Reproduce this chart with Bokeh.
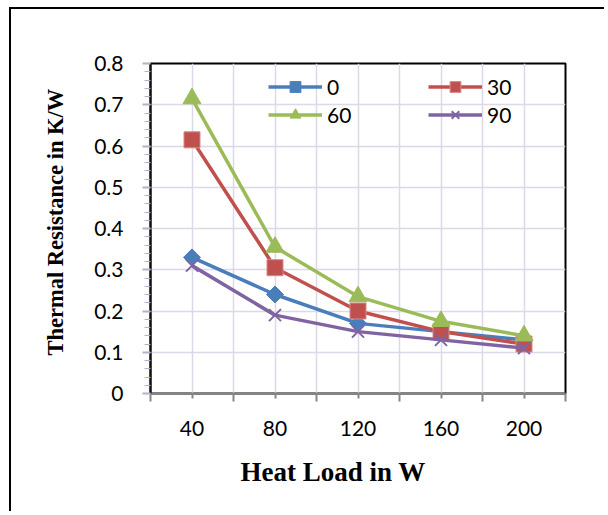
import math
from bokeh.plotting import figure
from bokeh.models import FixedTicker, Legend, LegendItem, Title, Range1d
from bokeh.embed import file_html
from bokeh.resources import INLINE

# ---- data ----
heat_load = [40, 80, 120, 160, 200]
series_names = ["0", "30", "60", "90"]
angle_0 = [0.33, 0.24, 0.17, 0.15, 0.13]
angle_30 = [0.615, 0.305, 0.20, 0.15, 0.12]
angle_60 = [0.715, 0.355, 0.235, 0.175, 0.14]
angle_90 = [0.31, 0.19, 0.15, 0.13, 0.11]
x_tick_values = [40, 80, 120, 160, 200]
x_boundaries = [20, 60, 100, 140, 180, 220]
y_tick_values = [0, 0.1, 0.2, 0.3, 0.4, 0.5, 0.6, 0.7, 0.8]
y_minor_values = [i * 0.02 for i in range(41)]
x_title = "Heat Load in W"
y_title = "Thermal Resistance in K/W"

colors = ["#4a7ebb", "#c0504d", "#9bbb59", "#8064a2"]
grid_color = "#dcd8e8"
tick_color = "#b6b0c8"

p = figure(width=595, height=504, x_range=Range1d(20, 220), y_range=Range1d(0, 0.8),
           output_backend="svg", toolbar_location=None,
           min_border_left=139, min_border_right=41, min_border_top=54, min_border_bottom=120)
p.styles = {"margin-left": "9px", "margin-top": "7px",
            "border-left": "2px solid black", "border-top": "2px solid black"}
p.background_fill_color = "white"
p.border_fill_color = "white"
p.outline_line_color = "black"
p.outline_line_width = 2

# x axis
xa = p.xaxis[0]
xa.ticker = FixedTicker(ticks=x_tick_values, minor_ticks=x_boundaries)
xa.axis_line_color = "#868686"
xa.axis_line_width = 2
xa.major_tick_in = 0
xa.major_tick_out = 5
xa.minor_tick_in = 0
xa.minor_tick_out = 8
xa.major_tick_line_color = "#868686"
xa.minor_tick_line_color = "#868686"
xa.major_tick_line_width = 2
xa.minor_tick_line_width = 2
xa.major_label_text_font = "Lato"
xa.major_label_text_font_size = "21px"
xa.major_label_text_color = "black"
xa.major_label_standoff = 19

# y axis
ya = p.yaxis[0]
ya.ticker = FixedTicker(ticks=y_tick_values, minor_ticks=y_minor_values)
ya.axis_line_color = "#111111"
ya.axis_line_width = 2
ya.major_tick_in = 0
ya.major_tick_out = 8
ya.minor_tick_in = 0
ya.minor_tick_out = 6
ya.major_tick_line_color = tick_color
ya.minor_tick_line_color = tick_color
ya.major_tick_line_width = 2
ya.minor_tick_line_width = 1
ya.major_label_text_font = "Lato"
ya.major_label_text_font_size = "21px"
ya.major_label_text_color = "black"
ya.major_label_standoff = 19
ya.major_label_overrides = {0: "0"}

# grids
p.xgrid.ticker = FixedTicker(ticks=x_tick_values, minor_ticks=x_boundaries)
p.xgrid.grid_line_color = grid_color
p.xgrid.minor_grid_line_color = grid_color
p.xgrid.grid_line_width = 1.5
p.xgrid.minor_grid_line_width = 1.5
p.ygrid.ticker = FixedTicker(ticks=y_tick_values)
p.ygrid.grid_line_color = grid_color
p.ygrid.grid_line_width = 1.5

# series
all_series = [angle_0, angle_30, angle_60, angle_90]
items = []
for name, ys, col in zip(series_names, all_series, colors):
    ln = p.line(heat_load, ys, line_color=col, line_width=3.5)
    if name == "0":
        mk = p.scatter(heat_load, ys, marker="square", angle=math.pi / 4, size=12,
                       fill_color=col, line_color=col)
    elif name == "30":
        mk = p.scatter(heat_load, ys, marker="square", size=16,
                       fill_color=col, line_color="#d58a88", line_width=1)
    elif name == "60":
        mk = p.scatter(heat_load, ys, marker="triangle", size=18,
                       fill_color=col, line_color=col)
    else:
        mk = p.scatter(heat_load, ys, marker="x", size=17,
                       line_color=col, line_width=2)
    items.append(LegendItem(label=name, renderers=[ln, mk]))

legend = Legend(items=items, location=(118, 265), orientation="horizontal", ncols=2,
                glyph_width=54, glyph_height=27, label_height=27, label_width=100,
                label_standoff=5, spacing=1, padding=0, margin=0,
                border_line_color=None, background_fill_alpha=0,
                label_text_font="Lato", label_text_font_size="21px", label_text_color="black")
p.add_layout(legend, "center")

p.add_layout(Title(text=x_title, align="left", offset=90, standoff=32,
                   text_font="Liberation Serif", text_font_size="27px",
                   text_font_style="bold", text_color="black"), "below")
p.add_layout(Title(text=y_title, align="left", offset=38, standoff=47,
                   text_font="Liberation Serif", text_font_size="22.5px",
                   text_font_style="bold", text_color="black"), "left")

open("out.html", "w").write(file_html(p, INLINE))
